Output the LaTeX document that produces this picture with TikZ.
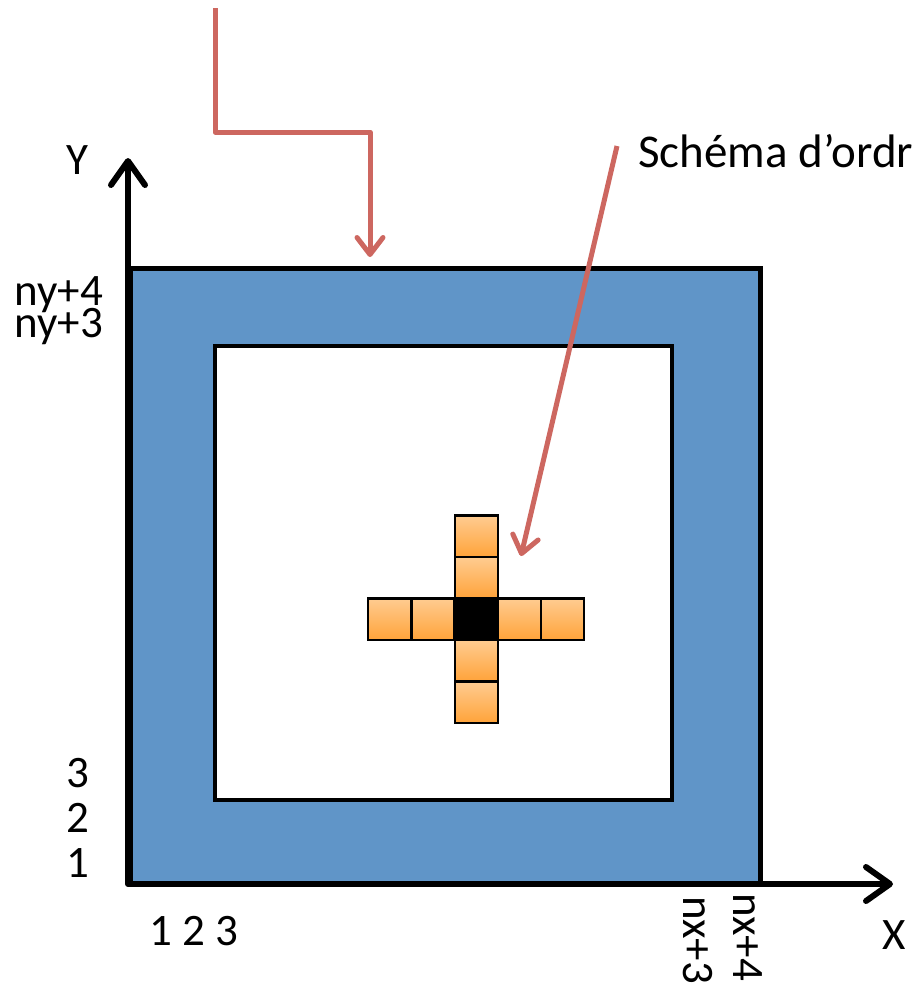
\documentclass[tikz,border=0pt]{standalone}
\usepackage{fontspec}
\setmainfont{Carlito}
\usetikzlibrary{arrows.meta}
\definecolor{panelblue}{RGB}{96,149,200}
\definecolor{arrowred}{RGB}{205,103,96}
\definecolor{celltop}{RGB}{255,204,145}
\definecolor{cellbot}{RGB}{255,163,58}
\begin{document}
\begin{tikzpicture}[x=1pt,y=-1pt,
  lbl/.style={font=\fontsize{45}{50}\selectfont, inner sep=0pt},
  axisline/.style={line width=6pt, line join=round,
    {Straight Barb[length=24pt,width=34pt,round]}-{Straight Barb[length=24pt,width=34pt,round]}},
  redarrow/.style={draw=arrowred, line width=5pt, line join=round,
    -{Straight Barb[length=17pt,width=26pt,round]}},
  cell/.style={draw=black, line width=2.5pt, inner sep=0pt,
    minimum width=43pt, minimum height=41.5pt,
    top color=celltop, bottom color=cellbot},
  centercell/.style={cell, fill=black, top color=black, bottom color=black}]
\useasboundingbox (0,0) rectangle (912,989);

% boundary band and interior domain
\draw[fill=panelblue, line width=5pt] (130,268) rectangle (760,884);
\draw[fill=white, line width=4.5pt] (215,346) rectangle (672,800);

% axes
\coordinate (o) at (128,884);
\coordinate (ytip) at (128,158);
\coordinate (xtip) at (893,884);
\draw[axisline] (ytip) -- (o) -- (xtip);
\node[lbl] (ylab) at (77,160) {Y};
\node[lbl] (xlab) at (894,935) {X};

% row and column indices
\node[lbl, anchor=base east] (ny4) at (103,305) {ny+4};
\node[lbl, anchor=base east] (ny3) at (103,337) {ny+3};
\node[lbl, anchor=base east] (r3) at (90,787) {3};
\node[lbl, anchor=base east] (r2) at (90,832) {2};
\node[lbl, anchor=base east] (r1) at (90,877) {1};
\node[lbl, anchor=base west] (c123) at (149,945) {1 2 3};
\node[lbl, anchor=base west, rotate=-90] (nx3) at (683,896) {nx+3};
\node[lbl, anchor=base west, rotate=-90] (nx4) at (733,893) {nx+4};

% stencil cells
\node[cell] (w2) at (389.5,619) {};
\node[cell] (w1) at (433,619) {};
\node[cell] (e1) at (519.5,619) {};
\node[cell] (e2) at (562.5,619) {};
\node[cell] (n2) at (476.5,536) {};
\node[cell] (n1) at (476.5,577.5) {};
\node[cell] (s1) at (476.5,660.5) {};
\node[cell] (s2) at (476.5,702) {};
\node[centercell] (c) at (476.5,619) {};

% annotation arrows
\coordinate (a1) at (215,8);
\coordinate (a1end) at (370,257);
\draw[redarrow] (a1) |- (a1end |- 0,132) -- (a1end);
\node[font=\fontsize{47}{54}\selectfont, inner sep=0pt, anchor=base west] (schema) at (638,167) {Schéma d’ordre};
\coordinate (a2) at (617,146);
\coordinate (a2end) at (521,556);
\draw[redarrow] (a2) -- (a2end);
\end{tikzpicture}
\end{document}
